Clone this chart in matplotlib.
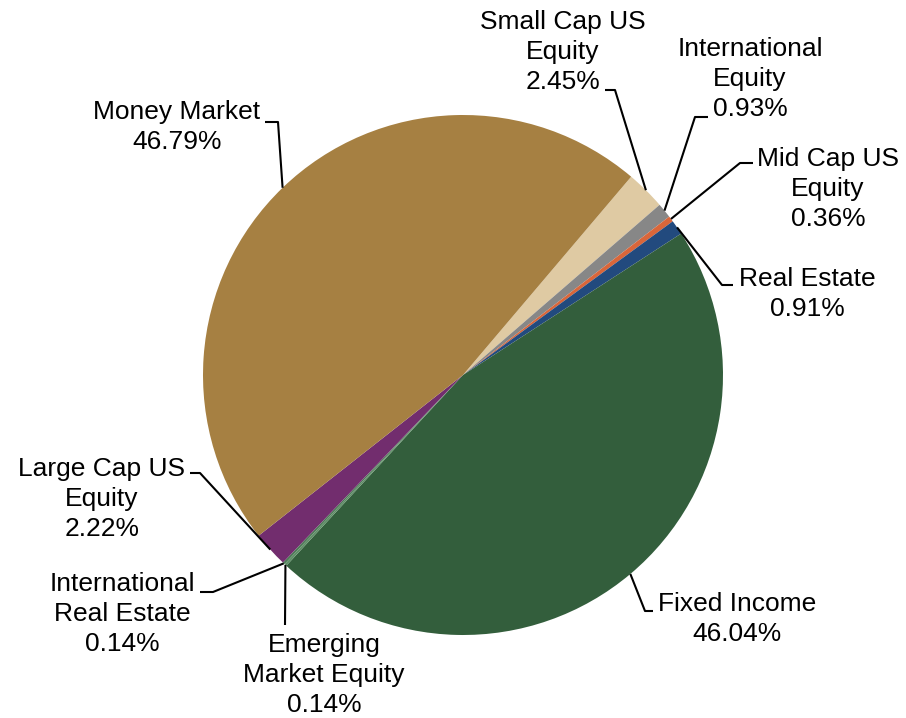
import matplotlib
matplotlib.use("Agg")
import matplotlib.pyplot as plt
import numpy as np

# ---- data (clockwise order starting after Money Market) ----
categories = ["Small Cap US\nEquity", "International\nEquity", "Mid Cap US\nEquity",
              "Real Estate", "Fixed Income", "Emerging\nMarket Equity",
              "International\nReal Estate", "Large Cap US\nEquity", "Money Market"]
values = [2.45, 0.93, 0.36, 0.91, 46.04, 0.14, 0.14, 2.22, 46.79]
pct_labels = ["2.45%", "0.93%", "0.36%", "0.91%", "46.04%", "0.14%", "0.14%", "2.22%", "46.79%"]
colors = ["#DFCAA3", "#878787", "#D9663A", "#224A7E", "#335E3C",
          "#5E8F66", "#4E7A58", "#722D6E", "#A68042"]

# ---- layout (pixel coordinates, y measured from top) ----
W, H = 906, 718
cx, cy, R = 463, 375, 260
# text block centres
text_pos = [(563, 52), (750, 79), (828, 189), (807, 294), (737, 619),
            (324, 675), (122, 614), (102, 499), (177, 127)]
# elbow points (where leader line bends) and horizontal end
elbows = [((615, 90), (605, 90)), ((695, 117), (708, 117)), ((740, 163), (753, 163)),
          ((722, 285), (733, 285)), ((645, 611), (653, 611)), ((285, 625), (285, 625)),
          ((213, 592), (200, 592)), ((200, 473), (190, 473)), ((278, 122), (265, 122))]

fig = plt.figure(figsize=(W / 100, H / 100), dpi=100)
ax = fig.add_axes([0, 0, 1, 1])

start_cw = 40.3  # clockwise degrees from 12 o'clock where first slice starts
wedges, _ = ax.pie(values, colors=colors, startangle=90 - start_cw, counterclock=False,
                   center=(cx, H - cy), radius=R, frame=True,
                   wedgeprops=dict(linewidth=0))
ax.set_xlim(0, W)
ax.set_ylim(0, H)
ax.set_aspect("equal")
ax.axis("off")

for w, cat, pct, (tx, ty), (e1, e2) in zip(wedges, categories, pct_labels, text_pos, elbows):
    mid = np.deg2rad((w.theta1 + w.theta2) / 2)
    sx = cx + R * np.cos(mid)
    sy = (H - cy) + R * np.sin(mid)
    xs = [sx, e1[0], e2[0]]
    ys = [sy, H - e1[1], H - e2[1]]
    ax.plot(xs, ys, color="black", lw=1.5, solid_capstyle="butt", zorder=3)
    ax.text(tx, H - ty, cat + "\n" + pct, ha="center", va="center",
            fontsize=19, family=["Liberation Sans", "DejaVu Sans"], color="#000000",
            linespacing=1.30)

fig.savefig("out.png", dpi=100)
